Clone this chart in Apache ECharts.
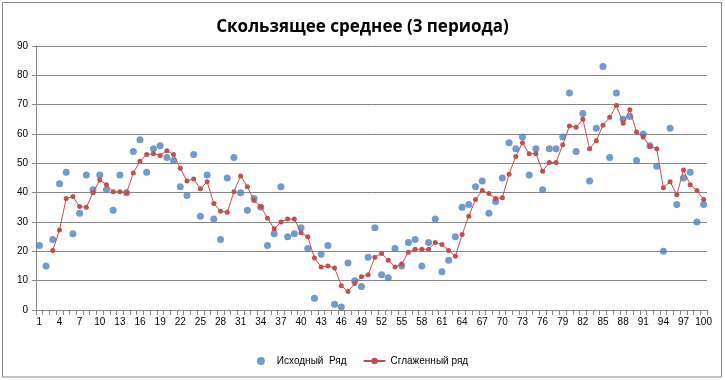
<!DOCTYPE html>
<html>
<head>
<meta charset="utf-8">
<script src="https://cdn.jsdelivr.net/npm/echarts@6/dist/echarts.min.js"></script>
<style>
html,body{margin:0;padding:0;background:#fff;}
#chart{width:725px;height:380px;}
</style>
</head>
<body>
<div id="chart"></div>
<script>
var titleText = 'Скользящее среднее (3 периода)';
var seriesNames = ['Исходный  Ряд', 'Сглаженный ряд'];
var categories = [];
for (var i = 1; i <= 100; i++) categories.push(String(i));

var original = [
  22,15,24,43,47,26,33,46,41,46,
  41,34,46,40,54,58,47,55,56,52,
  51,42,39,53,32,46,31,24,45,52,
  40,34,38,35,22,26,42,25,26,28,
  21,4,19,22,2,1,16,10,8,18,
  28,12,11,21,15,23,24,15,23,31,
  13,17,25,35,36,42,44,33,37,45,
  57,55,59,46,55,41,55,55,59,74,
  54,67,44,62,83,52,74,65,66,51,
  60,56,49,20,62,36,45,47,30,36
];

var smoothed = [
  null,null,20.3,27.3,38.0,38.7,35.3,35.0,40.0,44.3,
  42.7,40.3,40.3,40.0,46.7,50.7,53.0,53.3,52.7,54.3,
  53.0,48.3,44.0,44.7,41.3,43.7,36.3,33.7,33.3,40.3,
  45.7,42.0,37.3,35.3,31.3,27.7,30.0,31.0,31.0,26.3,
  25.0,17.7,14.7,15.0,14.3,8.3,6.3,9.0,11.3,12.0,
  18.0,19.3,17.0,14.7,15.7,19.7,20.7,20.7,20.7,23.0,
  22.3,20.3,18.3,25.7,32.0,37.7,40.7,39.7,38.0,38.3,
  46.3,52.3,57.0,53.3,53.3,47.3,50.3,50.3,56.3,62.7,
  62.3,65.0,55.0,57.7,63.0,65.7,69.7,63.7,68.3,60.7,
  59.0,55.7,55.0,41.7,43.7,39.3,47.7,42.7,40.7,37.7
];

var yMin = 0, yMax = 90, yStep = 10;

var gridColor = '#868686';
var font = '"Liberation Sans", Arial, sans-serif';

var chart = echarts.init(document.getElementById('chart'), null, {renderer: 'canvas'});
chart.setOption({
  animation: false,
  backgroundColor: '#ffffff',
  title: {
    text: titleText,
    left: 'center',
    top: 14,
    textStyle: {fontFamily: '"Open Sans", "Noto Sans", sans-serif', fontWeight: 'bold', fontSize: 17, color: '#000'}
  },
  graphic: [{
    type: 'rect',
    shape: {x: 2.5, y: 2.5, width: 719, height: 374.5},
    style: {fill: 'none', stroke: gridColor, lineWidth: 1},
    silent: true,
    z: -1
  }],
  legend: {
    left: 'center',
    top: 351,
    itemWidth: 22,
    itemHeight: 8,
    itemGap: 16,
    textStyle: {fontFamily: font, fontSize: 10, color: '#000'},
    data: [
      {name: seriesNames[0], icon: 'circle'},
      {name: seriesNames[1]}
    ]
  },
  grid: {left: 36, right: 18, top: 46, bottom: 70, containLabel: false},
  xAxis: {
    type: 'category',
    data: categories,
    boundaryGap: true,
    axisLine: {show: true, lineStyle: {color: gridColor, width: 1}},
    axisTick: {show: true, interval: 0, length: 5, lineStyle: {color: gridColor}},
    axisLabel: {interval: 2, margin: 7, fontFamily: font, fontSize: 10, color: '#000'},
    splitLine: {show: false}
  },
  yAxis: {
    type: 'value',
    min: yMin,
    max: yMax,
    interval: yStep,
    axisLine: {show: true, lineStyle: {color: gridColor, width: 1}},
    axisTick: {show: true, length: 4, lineStyle: {color: gridColor}},
    axisLabel: {margin: 8, fontFamily: font, fontSize: 10, color: '#000'},
    splitLine: {show: true, lineStyle: {color: gridColor, width: 1}}
  },
  series: [
    {
      name: seriesNames[0],
      type: 'scatter',
      data: original,
      symbol: 'circle',
      symbolSize: 7,
      itemStyle: {color: '#4F81BD'},
      z: 2
    },
    {
      name: seriesNames[1],
      type: 'line',
      data: smoothed,
      symbol: 'circle',
      symbolSize: 5,
      showSymbol: true,
      showAllSymbol: true,
      connectNulls: false,
      lineStyle: {color: '#C0504D', width: 1},
      itemStyle: {color: '#C0504D'},
      z: 3
    }
  ]
});
</script>
</body>
</html>
